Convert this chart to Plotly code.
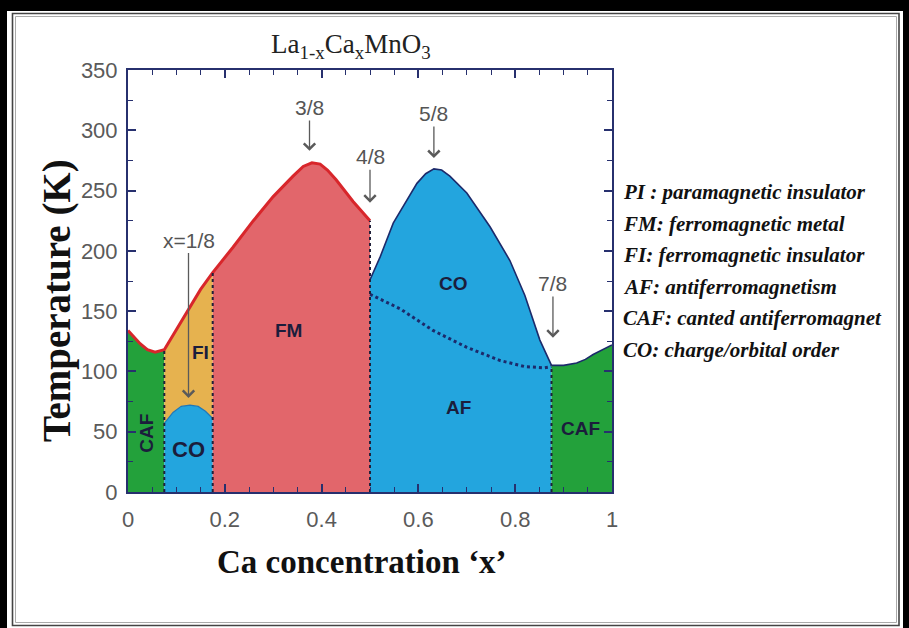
import plotly.graph_objects as go

# ---------------- data ----------------
# upper boundary of ordered phases (PI line), x = Ca concentration, T in K
pi_x = [0.0, 0.011, 0.025, 0.04, 0.056, 0.075, 0.1, 0.125, 0.15, 0.175, 0.217, 0.259, 0.3, 0.341, 0.362, 0.38, 0.397, 0.412, 0.43, 0.465, 0.5]
pi_T = [134, 129, 123, 118, 116, 118, 135, 152, 168, 182, 203, 225, 245, 262, 270, 273, 272, 267, 259, 241, 225]

# small charge-order dome near x = 1/8
co1_x = [0.075, 0.093, 0.11, 0.128, 0.145, 0.16, 0.175]
co1_T = [57, 66, 71, 72, 71, 67, 61]

# large charge-order / AF dome
co_x = [0.5, 0.521, 0.548, 0.576, 0.597, 0.615, 0.632, 0.648, 0.665, 0.7, 0.748, 0.789, 0.82, 0.851, 0.875]
co_T = [176, 195, 223, 242, 256, 264, 268, 267, 262, 248, 220, 192, 163, 126, 105]

# CO / AF dotted boundary
af_x = [0.5, 0.53, 0.562, 0.6, 0.63, 0.7, 0.769, 0.82, 0.86, 0.875]
af_T = [164, 158, 152, 142, 134, 120, 109, 104, 103, 104]

# canted AF region at high x
caf_x = [0.875, 0.9, 0.927, 0.945, 0.961, 0.98, 1.0]
caf_T = [105, 105, 107, 110, 114, 118, 122]

# vertical phase boundaries (dotted)
bnd_x = [0.075, 0.175, 0.5, 0.875]
bnd_T = [118, 182, 225, 105]

# fraction markers: label, arrow tip x, tip T, label T
mark_lbl = ["x=1/8", "3/8", "4/8", "5/8", "7/8"]
mark_x = [0.125, 0.375, 0.5, 0.632, 0.878]
mark_tip = [78, 283, 240, 277, 128]
mark_lblT = [209, 319, 278, 314, 173]

# region labels
reg_lbl = ["CAF", "CO", "FI", "FM", "CO", "AF", "CAF"]
reg_x = [0.039, 0.124, 0.149, 0.331, 0.672, 0.682, 0.934]
reg_T = [49, 35, 116, 134, 173, 70, 53]
reg_ang = [-90, 0, 0, 0, 0, 0, 0]
reg_size = [19, 22, 19, 19, 19, 19, 19]

# axis ticks
x_ticks = [0, 0.2, 0.4, 0.6, 0.8, 1]
x_ticktext = ["0", "0.2", "0.4", "0.6", "0.8", "1"]
y_ticks = [0, 50, 100, 150, 200, 250, 300, 350]

# legend text block
legend_lines = [
    "PI : paramagnetic insulator",
    "FM: ferromagnetic metal",
    "FI: ferromagnetic insulator",
    "AF: antiferromagnetism",
    "CAF: canted antiferromagnet",
    "CO: charge/orbital order",
]

# ---------------- figure ----------------
GREEN = "#23a13b"
YELLOW = "#e6b24f"
RED_FILL = "#e2666b"
RED_LINE = "#d8262b"
BLUE = "#23a5de"
NAVY = "#1c2a6b"
AXIS = "#27306e"
SANS = "Liberation Sans Narrow, Arial Narrow, Liberation Sans, Arial"
SERIF = "Liberation Serif, Times New Roman, serif"

W, H = 909, 628
L, R, T, B = 128, 297, 70, 136
PW, PH = W - L - R, H - T - B


def px2paper_x(px):
    return (px - L) / PW


def px2paper_y(py):
    return (H - B - py) / PH


fig = go.Figure()


def add_fill(xs, ys, color):
    fig.add_trace(go.Scatter(x=xs, y=ys, mode="lines", fill="toself", fillcolor=color,
                             line=dict(width=0, color=color), hoverinfo="skip", showlegend=False))


def add_line(xs, ys, color, width, dash="solid"):
    fig.add_trace(go.Scatter(x=xs, y=ys, mode="lines", line=dict(color=color, width=width, dash=dash),
                             hoverinfo="skip", showlegend=False))


i75 = pi_x.index(0.075)
i175 = pi_x.index(0.175)

# fills
add_fill(pi_x[:i75 + 1] + [0.075, 0.0], pi_T[:i75 + 1] + [0, 0], GREEN)
add_fill(pi_x[i75:i175 + 1] + co1_x[::-1], pi_T[i75:i175 + 1] + co1_T[::-1], YELLOW)
add_fill(co1_x + [0.175, 0.075], co1_T + [0, 0], BLUE)
add_fill(pi_x[i175:] + [0.5, 0.175], pi_T[i175:] + [0, 0], RED_FILL)
add_fill(co_x + [0.875, 0.5], co_T + [0, 0], BLUE)
add_fill(caf_x + [1.0, 0.875], caf_T + [0, 0], GREEN)

# outlines
add_line(co1_x, co1_T, "#1f78b8", 1.2)
add_line(co_x, co_T, NAVY, 1.6)
add_line(caf_x, caf_T, NAVY, 1.6)
add_line(pi_x, pi_T, RED_LINE, 3)
add_line(af_x, af_T, NAVY, 3, "dot")
for bx, bt in zip(bnd_x, bnd_T):
    add_line([bx, bx], [0, bt], "#20203a", 2, "dot")

# fraction arrows
for lbl, mx, tip, lt in zip(mark_lbl, mark_x, mark_tip, mark_lblT):
    fig.add_annotation(x=mx, y=tip, ax=mx, ay=lt, axref="x", ayref="y", xref="x", yref="y",
                       text=lbl, showarrow=True, arrowhead=4, arrowsize=1.7, arrowwidth=1.3,
                       arrowcolor="#5a5a5a", xanchor="center", yanchor="middle",
                       font=dict(family=SANS, size=21, color="#555555"))

# region labels
for lbl, rx, rt, ang, sz in zip(reg_lbl, reg_x, reg_T, reg_ang, reg_size):
    fig.add_annotation(x=rx, y=rt, xref="x", yref="y", text="<b>" + lbl + "</b>", showarrow=False,
                       textangle=ang, xanchor="center", yanchor="middle",
                       font=dict(family=SANS, size=sz, color="#1b1d3c"))

# title
fig.add_annotation(x=px2paper_x(351), y=px2paper_y(46), xref="paper", yref="paper",
                   xanchor="center", yanchor="middle",
                   text="La<sub>1-x</sub>Ca<sub>x</sub>MnO<sub>3</sub>", showarrow=False,
                   font=dict(family=SERIF, size=27, color="#222222"))

# axis titles
fig.add_annotation(x=px2paper_x(57), y=px2paper_y(301), xref="paper", yref="paper",
                   xanchor="center", yanchor="middle",
                   text="<b>Temperature (K)</b>", showarrow=False, textangle=-90,
                   font=dict(family=SERIF, size=39, color="#111111"))
fig.add_annotation(x=px2paper_x(362), y=px2paper_y(562), xref="paper", yref="paper",
                   xanchor="center", yanchor="middle",
                   text="<b>Ca concentration \u2018x\u2019</b>", showarrow=False,
                   font=dict(family=SERIF, size=33, color="#111111"))

# legend text block
for k, line in enumerate(legend_lines):
    fig.add_annotation(x=px2paper_x(621), y=px2paper_y(192 + k * 31.6), xref="paper", yref="paper",
                       xanchor="left", yanchor="middle", text="<b><i>" + line + "</i></b>", showarrow=False,
                       font=dict(family=SERIF, size=21, color="#111111"))

# picture frame
shapes = [
    dict(type="rect", xref="paper", yref="paper", x0=px2paper_x(0), x1=px2paper_x(7),
         y0=px2paper_y(628), y1=px2paper_y(0), fillcolor="black", line=dict(width=0), layer="above"),
    dict(type="rect", xref="paper", yref="paper", x0=px2paper_x(0), x1=px2paper_x(909),
         y0=px2paper_y(11), y1=px2paper_y(0), fillcolor="black", line=dict(width=0), layer="above"),
    dict(type="rect", xref="paper", yref="paper", x0=px2paper_x(903), x1=px2paper_x(909),
         y0=px2paper_y(628), y1=px2paper_y(0), fillcolor="black", line=dict(width=0), layer="above"),
    dict(type="rect", xref="paper", yref="paper", x0=px2paper_x(12.5), x1=px2paper_x(899),
         y0=px2paper_y(625.5), y1=px2paper_y(13.5), line=dict(color="#444444", width=1.6), layer="above"),
    dict(type="rect", xref="paper", yref="paper", x0=px2paper_x(15.5), x1=px2paper_x(896.5),
         y0=px2paper_y(622.5), y1=px2paper_y(16.5), line=dict(color="#aaaaaa", width=1), layer="above"),
]

tickfont = dict(family=SANS, size=22, color="#5a5a5a")

fig.update_layout(
    width=W, height=H,
    margin=dict(l=L, r=R, t=T, b=B, pad=0),
    paper_bgcolor="white", plot_bgcolor="white",
    showlegend=False,
    shapes=shapes,
    xaxis=dict(range=[0, 1], tickvals=x_ticks, ticktext=x_ticktext, ticks="inside", ticklen=8,
               tickwidth=1.6, tickcolor=AXIS, showline=True, linecolor=AXIS, linewidth=2,
               mirror="ticks", showgrid=False, zeroline=False, tickfont=tickfont,
               ticklabelstandoff=7,
               minor=dict(dtick=0.05, ticks="inside", ticklen=5, tickcolor=AXIS, tickwidth=1.4)),
    yaxis=dict(range=[0, 350], tickvals=y_ticks, ticks="inside", ticklen=8,
               tickwidth=1.6, tickcolor=AXIS, showline=True, linecolor=AXIS, linewidth=2,
               mirror="ticks", showgrid=False, zeroline=False, tickfont=tickfont,
               ticklabelstandoff=4,
               minor=dict(dtick=25, ticks="inside", ticklen=5, tickcolor=AXIS, tickwidth=1.4)),
)

fig.write_html("out.html")
